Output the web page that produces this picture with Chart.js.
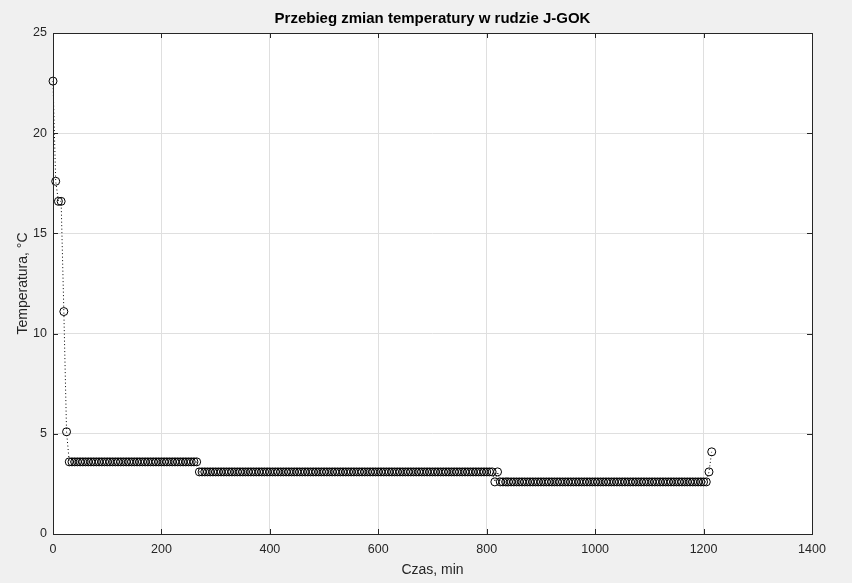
<!DOCTYPE html>
<html>
<head>
<meta charset="utf-8">
<script src="https://cdn.jsdelivr.net/npm/chart.js@4/dist/chart.umd.min.js"></script>
<style>
html, body { margin: 0; padding: 0; background: #f0f0f0; }
canvas { display: block; }
</style>
</head>
<body>
<canvas id="chart" width="852" height="583"></canvas>
<script>
// czas pomiaru, min
const czas = [
    0, 5, 10, 15, 20, 25, 30, 35, 40, 45, 50, 55, 60, 65, 70, 75, 80, 85, 90, 95,
    100, 105, 110, 115, 120, 125, 130, 135, 140, 145, 150, 155, 160, 165, 170, 175, 180, 185, 190, 195,
    200, 205, 210, 215, 220, 225, 230, 235, 240, 245, 250, 255, 260, 265, 270, 275, 280, 285, 290, 295,
    300, 305, 310, 315, 320, 325, 330, 335, 340, 345, 350, 355, 360, 365, 370, 375, 380, 385, 390, 395,
    400, 405, 410, 415, 420, 425, 430, 435, 440, 445, 450, 455, 460, 465, 470, 475, 480, 485, 490, 495,
    500, 505, 510, 515, 520, 525, 530, 535, 540, 545, 550, 555, 560, 565, 570, 575, 580, 585, 590, 595,
    600, 605, 610, 615, 620, 625, 630, 635, 640, 645, 650, 655, 660, 665, 670, 675, 680, 685, 690, 695,
    700, 705, 710, 715, 720, 725, 730, 735, 740, 745, 750, 755, 760, 765, 770, 775, 780, 785, 790, 795,
    800, 805, 810, 815, 820, 825, 830, 835, 840, 845, 850, 855, 860, 865, 870, 875, 880, 885, 890, 895,
    900, 905, 910, 915, 920, 925, 930, 935, 940, 945, 950, 955, 960, 965, 970, 975, 980, 985, 990, 995,
    1000, 1005, 1010, 1015, 1020, 1025, 1030, 1035, 1040, 1045, 1050, 1055, 1060, 1065, 1070, 1075, 1080, 1085, 1090, 1095,
    1100, 1105, 1110, 1115, 1120, 1125, 1130, 1135, 1140, 1145, 1150, 1155, 1160, 1165, 1170, 1175, 1180, 1185, 1190, 1195,
    1200, 1205, 1210, 1215
];

// temperatura, °C
const temperatura = [
    22.6, 17.6, 16.6, 16.6, 11.1, 5.1, 3.6, 3.6, 3.6, 3.6, 3.6, 3.6, 3.6, 3.6, 3.6, 3.6, 3.6, 3.6, 3.6, 3.6,
    3.6, 3.6, 3.6, 3.6, 3.6, 3.6, 3.6, 3.6, 3.6, 3.6, 3.6, 3.6, 3.6, 3.6, 3.6, 3.6, 3.6, 3.6, 3.6, 3.6,
    3.6, 3.6, 3.6, 3.6, 3.6, 3.6, 3.6, 3.6, 3.6, 3.6, 3.6, 3.6, 3.6, 3.6, 3.1, 3.1, 3.1, 3.1, 3.1, 3.1,
    3.1, 3.1, 3.1, 3.1, 3.1, 3.1, 3.1, 3.1, 3.1, 3.1, 3.1, 3.1, 3.1, 3.1, 3.1, 3.1, 3.1, 3.1, 3.1, 3.1,
    3.1, 3.1, 3.1, 3.1, 3.1, 3.1, 3.1, 3.1, 3.1, 3.1, 3.1, 3.1, 3.1, 3.1, 3.1, 3.1, 3.1, 3.1, 3.1, 3.1,
    3.1, 3.1, 3.1, 3.1, 3.1, 3.1, 3.1, 3.1, 3.1, 3.1, 3.1, 3.1, 3.1, 3.1, 3.1, 3.1, 3.1, 3.1, 3.1, 3.1,
    3.1, 3.1, 3.1, 3.1, 3.1, 3.1, 3.1, 3.1, 3.1, 3.1, 3.1, 3.1, 3.1, 3.1, 3.1, 3.1, 3.1, 3.1, 3.1, 3.1,
    3.1, 3.1, 3.1, 3.1, 3.1, 3.1, 3.1, 3.1, 3.1, 3.1, 3.1, 3.1, 3.1, 3.1, 3.1, 3.1, 3.1, 3.1, 3.1, 3.1,
    3.1, 3.1, 3.1, 2.6, 3.1, 2.6, 2.6, 2.6, 2.6, 2.6, 2.6, 2.6, 2.6, 2.6, 2.6, 2.6, 2.6, 2.6, 2.6, 2.6,
    2.6, 2.6, 2.6, 2.6, 2.6, 2.6, 2.6, 2.6, 2.6, 2.6, 2.6, 2.6, 2.6, 2.6, 2.6, 2.6, 2.6, 2.6, 2.6, 2.6,
    2.6, 2.6, 2.6, 2.6, 2.6, 2.6, 2.6, 2.6, 2.6, 2.6, 2.6, 2.6, 2.6, 2.6, 2.6, 2.6, 2.6, 2.6, 2.6, 2.6,
    2.6, 2.6, 2.6, 2.6, 2.6, 2.6, 2.6, 2.6, 2.6, 2.6, 2.6, 2.6, 2.6, 2.6, 2.6, 2.6, 2.6, 2.6, 2.6, 2.6,
    2.6, 2.6, 3.1, 4.1
];

const xTicks = [0, 200, 400, 600, 800, 1000, 1200, 1400];
const yTicks = [0, 5, 10, 15, 20, 25];

const tytul = 'Przebieg zmian temperatury w rudzie J-GOK';
const axisColor = '#262626';
const font = 'Liberation Sans, Arial, sans-serif';

// white axes background + matlab style box with inward ticks and title
const matlabBox = {
    id: 'matlabBox',
    beforeDraw(chart) {
        const a = chart.chartArea;
        const ctx = chart.ctx;
        ctx.save();
        ctx.fillStyle = '#ffffff';
        ctx.fillRect(a.left, a.top, a.right - a.left, a.bottom - a.top);
        ctx.restore();
    },
    afterDraw(chart) {
        const a = chart.chartArea;
        const ctx = chart.ctx;
        const xs = chart.scales.x, ys = chart.scales.y;
        const len = 5;
        ctx.save();
        ctx.strokeStyle = axisColor;
        ctx.lineWidth = 1;
        ctx.beginPath();
        xTicks.forEach(v => {
            const px = Math.round(xs.getPixelForValue(v)) + 0.5;
            ctx.moveTo(px, a.bottom); ctx.lineTo(px, a.bottom - len);
            ctx.moveTo(px, a.top); ctx.lineTo(px, a.top + len);
        });
        yTicks.forEach(v => {
            const py = Math.round(ys.getPixelForValue(v)) + 0.5;
            ctx.moveTo(a.left, py); ctx.lineTo(a.left + len, py);
            ctx.moveTo(a.right, py); ctx.lineTo(a.right - len, py);
        });
        ctx.stroke();
        ctx.strokeRect(Math.round(a.left) + 0.5, Math.round(a.top) + 0.5,
            Math.round(a.right - a.left), Math.round(a.bottom - a.top));

        // title centred over the axes
        ctx.fillStyle = '#000000';
        ctx.font = 'bold 15px ' + font;
        ctx.textAlign = 'center';
        ctx.textBaseline = 'middle';
        ctx.fillText(tytul, (a.left + a.right) / 2, 19);
        ctx.restore();
    }
};

const points = czas.map((t, i) => ({ x: t, y: temperatura[i] }));

const config = {
    type: 'scatter',
    data: {
        datasets: [{
            data: points,
            showLine: true,
            borderColor: '#000000',
            borderWidth: 1,
            borderDash: [1, 2.5],
            pointStyle: 'circle',
            pointRadius: 4,
            pointBorderWidth: 1,
            pointBorderColor: '#000000',
            pointBackgroundColor: 'rgba(0,0,0,0)',
            tension: 0,
            clip: false,
        }]
    },
    options: {
        responsive: false,
        animation: false,
        devicePixelRatio: 1,
        layout: {
            padding: { left: 0, right: 40, top: 33, bottom: 0 },
        },
        scales: {
            x: {
                type: 'linear',
                min: 0,
                max: 1400,
                afterBuildTicks: s => { s.ticks = xTicks.map(v => ({ value: v })); },
                afterFit: s => { s.height = 49; },
                border: { display: false },
                grid: { color: '#dfdfdf', drawTicks: false },
                ticks: {
                    padding: 8,
                    color: axisColor,
                    font: { family: font, size: 12.5 },
                    maxRotation: 0,
                    callback: v => String(v),
                },
                title: {
                    display: true,
                    text: 'Czas, min',
                    color: axisColor,
                    font: { family: font, size: 14 },
                    padding: { top: 0, bottom: 4 },
                },
            },
            y: {
                type: 'linear',
                min: 0,
                max: 25,
                afterBuildTicks: s => { s.ticks = yTicks.map(v => ({ value: v })); },
                afterFit: s => { s.width = 53; },
                border: { display: false },
                grid: { color: '#dfdfdf', drawTicks: false },
                ticks: {
                    padding: 6,
                    color: axisColor,
                    font: { family: font, size: 12.5 },
                    callback: v => String(v),
                },
                title: {
                    display: true,
                    text: 'Temperatura, °C',
                    color: axisColor,
                    font: { family: font, size: 14 },
                    padding: { top: 15, bottom: 0 },
                },
            },
        },
        plugins: {
            legend: { display: false },
            tooltip: { enabled: false },
            title: { display: false },
        },
    },
    plugins: [matlabBox],
};

const ctx = document.getElementById('chart').getContext('2d');
const chart = new Chart(ctx, config);
</script>
</body>
</html>
